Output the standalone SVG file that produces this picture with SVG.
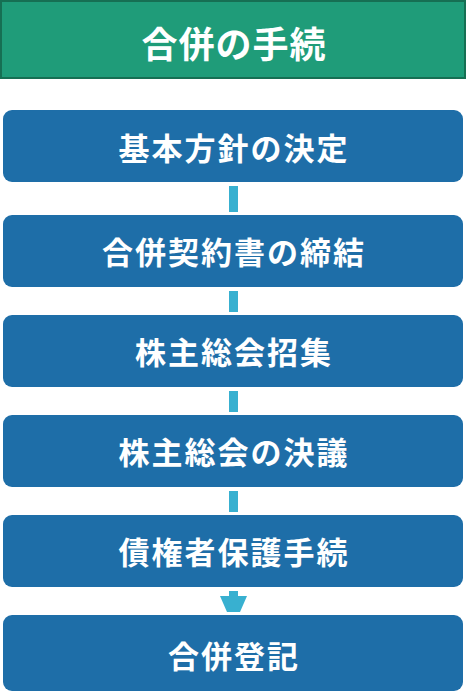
<svg xmlns="http://www.w3.org/2000/svg" width="466" height="694" viewBox="0 0 466 694">
<style>
.box{fill:#1e6ea8}
.t{font-family:"Noto Sans CJK JP","Noto Sans CJK SC",sans-serif;font-weight:bold;font-size:31px;letter-spacing:2px;fill:#fff;text-anchor:middle;dominant-baseline:central}
.title{font-size:36px;letter-spacing:1px}
.c{fill:#38b0d0}
</style>
<rect width="466" height="694" fill="#fff"/>
<g id="header">
<rect x="1" y="1" width="464" height="77" fill="#1f9c79" stroke="#166f53" stroke-width="2"/>
<text class="t title" x="234" y="42">合併の手続</text>
</g>
<g id="n1"><rect class="box" x="3" y="110" width="460" height="72" rx="9"/><text class="t" x="234" y="146">基本方針の決定</text></g>
<g id="n2"><rect class="box" x="3" y="215" width="460" height="72" rx="9"/><text class="t" x="234" y="250">合併契約書の締結</text></g>
<g id="n3"><rect class="box" x="3" y="315" width="460" height="72" rx="9"/><text class="t" x="234" y="350">株主総会招集</text></g>
<g id="n4"><rect class="box" x="3" y="415" width="460" height="72" rx="9"/><text class="t" x="234" y="450">株主総会の決議</text></g>
<g id="n5"><rect class="box" x="3" y="515" width="460" height="72" rx="9"/><text class="t" x="234" y="550">債権者保護手続</text></g>
<g id="n6"><rect class="box" x="3" y="615" width="460" height="76" rx="9"/><text class="t" x="234" y="654">合併登記</text></g>
<g id="connectors">
<rect class="c" x="229" y="186" width="9" height="26"/>
<rect class="c" x="229" y="291" width="9" height="21"/>
<rect class="c" x="229" y="391" width="9" height="21"/>
<rect class="c" x="229" y="491" width="9" height="21"/>
<path class="c" d="M229 591H238V596H247L240 612H227L220 596H229Z"/>
</g>
</svg>
